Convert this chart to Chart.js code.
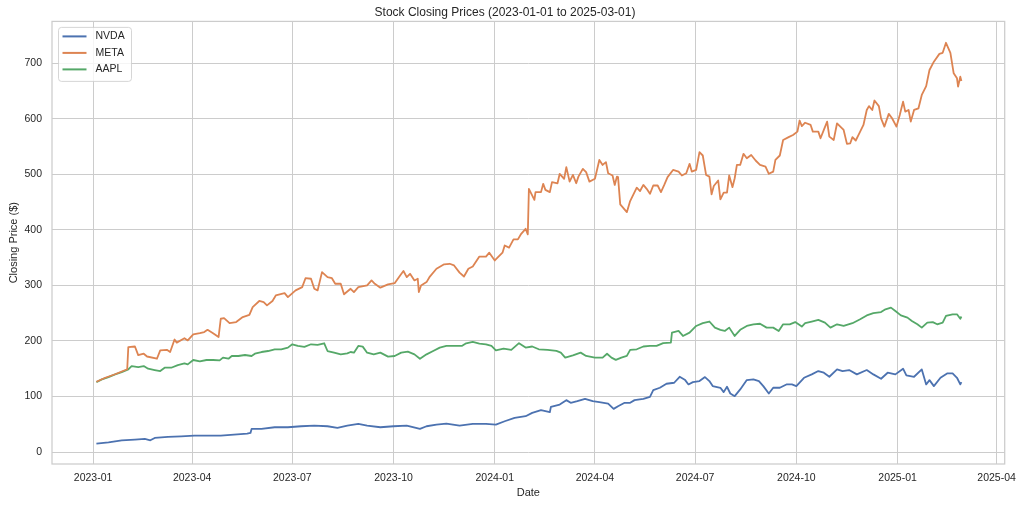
<!DOCTYPE html>
<html>
<head>
<meta charset="utf-8">
<title>Stock Closing Prices</title>
<script src="https://cdn.jsdelivr.net/npm/chart.js@4.4.1/dist/chart.umd.min.js"></script>
<style>
  html, body { margin: 0; padding: 0; background: #ffffff; }
  #wrap { width: 1024px; height: 507px; position: relative; }
</style>
</head>
<body>
<div id="wrap"><canvas id="stockChart"></canvas></div>
<script>
// x values are days counted from 2023-01-01
const tickDays = [0, 90, 181, 273, 365, 456, 547, 639, 731, 821];
const tickLabels = ['2023-01', '2023-04', '2023-07', '2023-10', '2024-01', '2024-04', '2024-07', '2024-10', '2025-01', '2025-04'];
const priceTicks = [0, 100, 200, 300, 400, 500, 600, 700];

const nvdaDays = [3, 14, 26, 38, 47, 52, 56, 68, 80, 92, 104, 116, 128, 140, 143, 144, 153, 165, 177, 189,
  201, 213, 222, 231, 241, 249, 261, 273, 285, 297, 303, 312, 321, 333, 345, 357, 366, 374, 383, 393,
  399, 407, 415, 416, 424, 430, 434, 440, 447, 454, 460, 468, 473, 477, 483, 488, 492, 500, 506, 509,
  515, 521, 528, 533, 538, 541, 545, 551, 556, 560, 563, 570, 573, 576, 579, 583, 588, 594, 600, 605,
  609, 614, 618, 624, 630, 635, 639, 646, 653, 659, 664, 669, 676, 681, 687, 694, 703, 709, 716, 722,
  729, 736, 739, 746, 753, 757, 760, 764, 770, 776, 781, 785, 788, 789];
const nvdaClose = [15.1, 17.5, 21.1, 22.3, 23.5, 21.1, 25.3, 27.1, 28.3, 29.5, 29.5, 29.5, 31.3, 33.1, 34.3, 41.6, 41.6, 44.6, 44.6, 46.4,
  47.6, 46.4, 43.4, 47.6, 50.6, 47.6, 44.6, 46.4, 47.6, 41.6, 46.4, 49.4, 51.2, 47.6, 50.6, 50.6, 49.4, 55.4, 61.4, 64.5,
  70.5, 75.3, 71.7, 81.3, 85.5, 93.4, 88.6, 91.6, 95.8, 91.6, 89.8, 87.3, 77.7, 82.5, 88.6, 88.6, 93.4, 95.8, 99.4, 111.4,
  115.7, 122.9, 124.7, 135.5, 129.5, 121.7, 125.9, 127.7, 134.9, 127.7, 118.7, 115.7, 107.8, 117.5, 105.4, 100.6, 112.7, 129.5, 130.7, 127.7,
  118.7, 105.4, 115.7, 115.7, 121.7, 121.7, 118.7, 133.7, 139.8, 145.8, 142.8, 135.5, 148.8, 145.8, 147.6, 139.8, 147.6, 139.8, 131.9, 142.8,
  139.8, 150.0, 138.0, 135.5, 148.8, 121.7, 129.5, 118.7, 133.7, 141.6, 141.6, 133.7, 121.7, 125.9];

const metaDays = [3, 11, 20, 26, 31, 32, 38, 41, 46, 49, 58, 61, 67, 70, 74, 76, 83, 86, 91, 97,
  101, 104, 109, 114, 116, 119, 124, 130, 136, 142, 145, 151, 155, 158, 163, 166, 174, 177, 184, 190,
  193, 198, 201, 204, 208, 213, 217, 220, 225, 228, 234, 237, 241, 249, 253, 256, 261, 268, 274, 279,
  282, 285, 288, 292, 295, 296, 298, 303, 306, 312, 319, 324, 328, 333, 337, 341, 345, 351, 357, 360,
  365, 372, 374, 378, 382, 386, 389, 393, 395, 396, 401, 402, 407, 409, 411, 415, 417, 422, 424, 428,
  430, 433, 436, 439, 441, 445, 448, 451, 456, 460, 463, 466, 468, 472, 474, 476, 477, 479, 485, 488,
  494, 497, 500, 503, 506, 509, 513, 516, 519, 522, 527, 532, 535, 539, 542, 544, 548, 551, 554, 557,
  560, 562, 564, 568, 570, 573, 576, 578, 581, 583, 585, 588, 591, 594, 598, 602, 606, 611, 614, 618,
  620, 624, 627, 632, 636, 640, 642, 644, 647, 652, 654, 659, 661, 664, 667, 669, 673, 676, 682, 685,
  688, 690, 693, 696, 700, 703, 705, 708, 710, 714, 716, 719, 723, 726, 730, 733, 736, 738, 741, 743,
  746, 750, 753, 757, 760, 764, 769, 772, 775, 779, 782, 785, 786, 788, 789];
const metaClose = [126.5, 133.7, 140, 145, 149, 189, 190, 174.5, 177, 172, 168, 183, 184, 180, 202.6, 197, 205, 201, 212, 214,
  216, 220, 214, 207, 240, 241, 232, 234, 243, 247, 261, 272, 270, 264, 272, 282, 286, 279, 291, 297,
  313, 312, 294, 291, 324, 315, 313, 303, 303, 284, 294, 288, 297, 300, 309, 303, 296, 302, 304, 318,
  326, 315, 321, 309, 312, 288, 300, 306, 316, 330, 338, 339, 336, 323, 316, 330, 334, 352, 352, 359,
  345, 359, 372, 368, 383, 383, 393, 402, 392, 474, 454, 468, 468, 483, 472, 468, 486, 484, 501, 492,
  513, 487, 499, 484, 496, 510, 504, 487, 492, 526, 517, 522, 502, 498, 481, 496, 495, 446, 432, 452,
  476, 470, 481, 474, 465, 480, 480, 468, 481, 495, 508, 505, 498, 502, 519, 505, 508, 540, 534, 499,
  496, 464, 479, 489, 455, 467, 467, 498, 477, 493, 517, 517, 537, 529, 535, 525, 517, 514, 501, 505,
  526, 534, 562, 567, 571, 577, 597, 587, 593, 589, 577, 577, 565, 580, 595, 568, 562, 592, 580, 555,
  556, 567, 561, 573, 589, 616, 623, 616, 633, 623, 601, 586, 609, 601, 586, 607, 631, 613, 616, 595,
  616, 619, 643, 659, 688, 703, 717, 719, 737, 719, 682, 673, 658, 676, 668];

const aaplDays = [3, 8, 14, 20, 26, 32, 35, 41, 46, 50, 56, 61, 65, 71, 77, 83, 86, 91, 97, 103,
  109, 115, 118, 123, 126, 132, 138, 144, 147, 153, 159, 165, 171, 177, 181, 186, 192, 198, 204, 210,
  213, 219, 225, 231, 234, 237, 241, 245, 249, 255, 261, 268, 274, 280, 286, 292, 297, 303, 309, 315,
  321, 327, 335, 339, 345, 351, 357, 362, 366, 373, 380, 387, 393, 399, 405, 413, 421, 425, 429, 436,
  443, 448, 456, 463, 467, 471, 475, 480, 485, 488, 494, 500, 506, 512, 518, 525, 526, 532, 536, 542,
  548, 554, 560, 565, 570, 574, 578, 583, 588, 594, 600, 606, 612, 618, 623, 627, 633, 638, 644, 647,
  653, 659, 665, 670, 676, 682, 690, 697, 703, 709, 716, 720, 725, 729, 734, 740, 744, 749, 753, 758,
  763, 767, 772, 775, 781, 785, 788, 789];
const aaplClose = [125.9, 130.7, 135, 139.8, 144, 148.8, 154.8, 153, 154.8, 150, 147.6, 145.8, 151.8, 151.8, 156.6, 159.6, 157.8, 165.7, 163.3, 165.7,
  165.7, 165, 169.9, 168, 172.9, 172.9, 174.7, 172.9, 177.1, 180.1, 181.9, 184.9, 184.9, 188, 194, 191, 189.2, 194, 192.8, 195.8,
  181.9, 178.9, 175.9, 177.7, 180.1, 178.9, 191, 189.8, 178.9, 175.9, 178.9, 171.7, 172.9, 178.9, 180.7, 175.9, 168, 175.9, 181.9, 188,
  191, 191, 191, 195.8, 198.2, 195.2, 194, 191, 183, 186, 184, 196, 188, 190, 185, 184, 182, 179, 170, 174,
  179, 173, 170, 170, 177, 170, 166, 170, 173, 184, 185, 190, 191, 191, 196, 197, 215, 218, 209, 215,
  227, 232, 235, 224, 220, 218, 224, 209, 220, 227, 230, 231, 224, 224, 218, 230, 230, 234, 226, 232,
  235, 238, 233, 224, 230, 227, 232, 239, 246, 250, 252, 257, 260, 254, 246, 242, 236, 230, 224, 233,
  234, 230, 233, 245, 248, 248, 240, 244];

const seriesNames = ['NVDA', 'META', 'AAPL'];
const seriesColors = ['#4c72b0', '#dd8452', '#55a868'];

const FONT = "'Liberation Sans', Arial, sans-serif";
const TEXT = '#262626';
const GRID = '#cccccc';

function toPoints(days, values) {
  return days.map((d, i) => ({ x: d, y: values[i] }));
}

// spines on all four sides + legend box inside the top-left corner
const frameAndLegend = {
  id: 'frameAndLegend',
  afterDraw(chart) {
    const { ctx, chartArea: a } = chart;
    ctx.save();
    ctx.strokeStyle = GRID;
    ctx.lineWidth = 1.25;
    ctx.strokeRect(a.left, a.top, a.right - a.left, a.bottom - a.top);

    const bx = a.left + 6.5, by = a.top + 6, bw = 73, bh = 54;
    ctx.beginPath();
    ctx.roundRect(bx, by, bw, bh, 3);
    ctx.fillStyle = 'rgba(255,255,255,0.8)';
    ctx.fill();
    ctx.strokeStyle = 'rgba(204,204,204,0.8)';
    ctx.lineWidth = 1;
    ctx.stroke();

    ctx.font = '10.5px ' + FONT;
    ctx.textBaseline = 'middle';
    ctx.textAlign = 'left';
    chart.data.datasets.forEach((ds, i) => {
      const y = by + 9 + i * 16.5;
      ctx.beginPath();
      ctx.moveTo(bx + 4, y);
      ctx.lineTo(bx + 28, y);
      ctx.strokeStyle = ds.borderColor;
      ctx.lineWidth = 2;
      ctx.stroke();
      ctx.fillStyle = TEXT;
      ctx.fillText(ds.label, bx + 37, y);
    });
    ctx.restore();
  }
};

new Chart(document.getElementById('stockChart'), {
  type: 'line',
  data: {
    datasets: [
      { label: seriesNames[0], data: toPoints(nvdaDays, nvdaClose), borderColor: seriesColors[0] },
      { label: seriesNames[1], data: toPoints(metaDays, metaClose), borderColor: seriesColors[1] },
      { label: seriesNames[2], data: toPoints(aaplDays, aaplClose), borderColor: seriesColors[2] }
    ]
  },
  options: {
    responsive: true,
    maintainAspectRatio: false,
    animation: false,
    elements: {
      line: { borderWidth: 1.8, tension: 0, borderJoinStyle: 'round', fill: false },
      point: { radius: 0, hoverRadius: 0 }
    },
    layout: { padding: { left: 0, right: 14, top: 0, bottom: 0 } },
    plugins: {
      legend: { display: false },
      tooltip: { enabled: false },
      title: {
        display: true,
        text: 'Stock Closing Prices (2023-01-01 to 2025-03-01)',
        color: TEXT,
        font: { family: FONT, size: 12, weight: 'normal' },
        padding: { top: 5, bottom: 2 }
      }
    },
    scales: {
      x: {
        type: 'linear',
        min: -37.35,
        max: 828.35,
        afterBuildTicks: s => { s.ticks = tickDays.map(v => ({ value: v })); },
        afterFit: s => { s.height = 43; },
        ticks: {
          callback: (v, i) => tickLabels[i],
          color: TEXT,
          font: { family: FONT, size: 10.5 },
          padding: 8,
          maxRotation: 0,
          autoSkip: false
        },
        grid: { color: GRID, lineWidth: 1, drawTicks: false },
        border: { display: false },
        title: {
          display: true,
          text: 'Date',
          color: TEXT,
          font: { family: FONT, size: 11 },
          padding: { top: 4, bottom: 7.5 }
        }
      },
      y: {
        min: -21.6,
        max: 775.5,
        afterBuildTicks: s => { s.ticks = priceTicks.map(v => ({ value: v })); },
        afterFit: s => { s.width = 52; },
        ticks: {
          color: TEXT,
          font: { family: FONT, size: 10.5 },
          padding: 10
        },
        grid: { color: GRID, lineWidth: 1, drawTicks: false },
        border: { display: false },
        title: {
          display: true,
          text: 'Closing Price ($)',
          color: TEXT,
          font: { family: FONT, size: 11 },
          padding: { top: 7, bottom: 0 }
        }
      }
    }
  },
  plugins: [frameAndLegend]
});
</script>
</body>
</html>
